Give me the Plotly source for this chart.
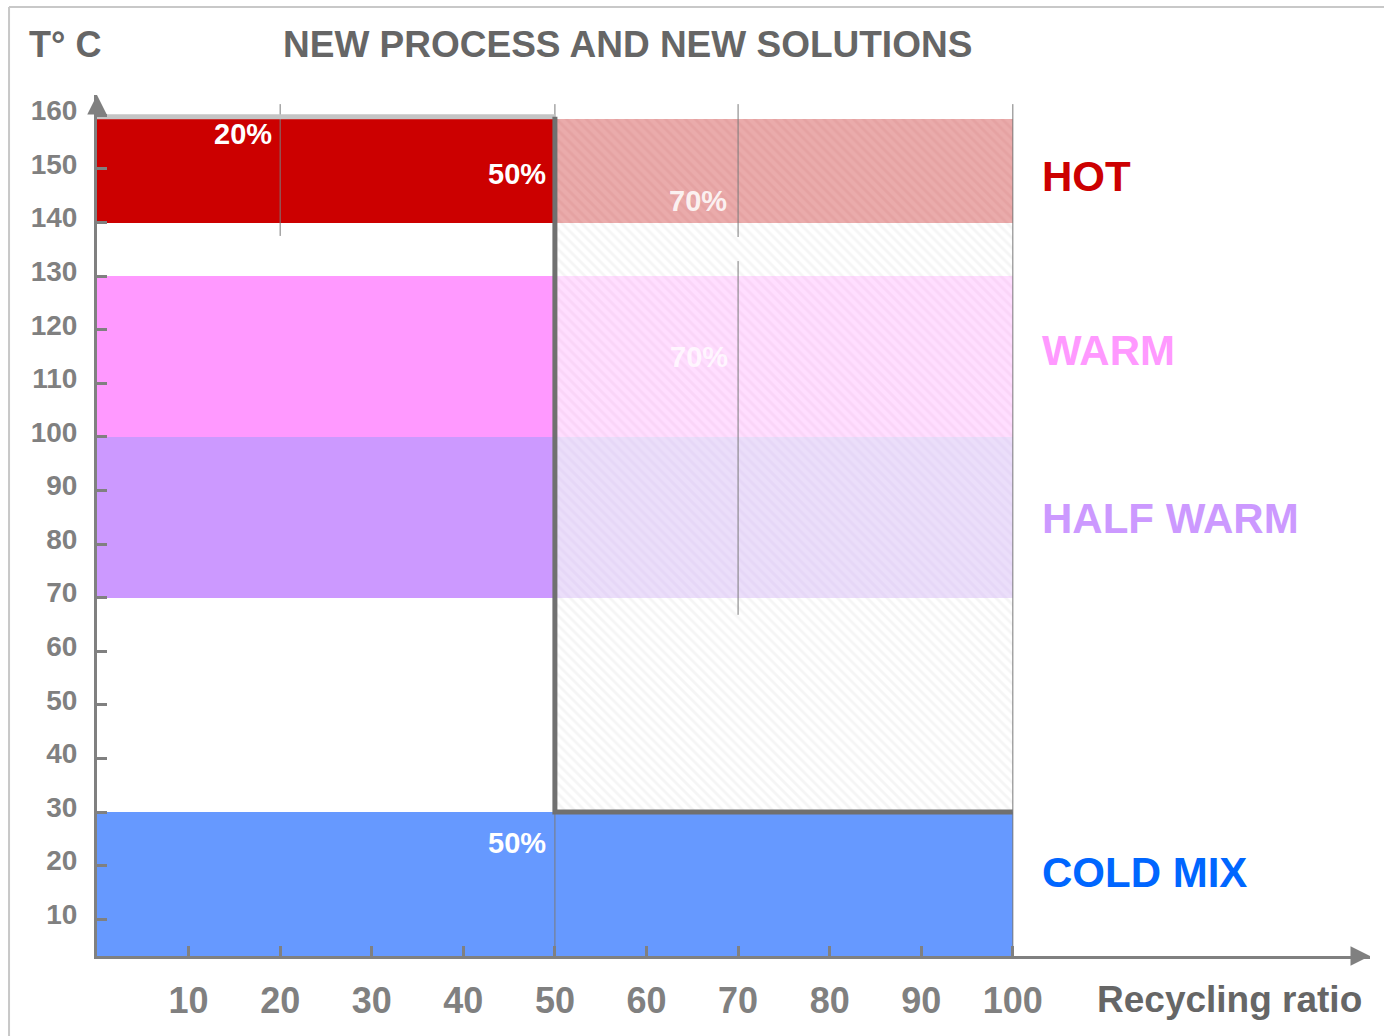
import plotly.graph_objects as go

# Temperature bands (°C) against recycling ratio (%)
y_floor = 3.13          # where the recycling-ratio axis crosses the temperature scale
y_top = 163.8
x_top = 139.0

# Solid bands, current practice (0-50 % recycling)
solid_names = ["HOT", "WARM", "HALF WARM", "COLD MIX"]
solid_low = [140, 100, 70, y_floor]
solid_high = [159.3, 130, 100, 30]
solid_x0 = [0, 0, 0, 0]
solid_x1 = [50, 50, 50, 100]
solid_colors = ["#CC0000", "#FF99FF", "#CC99FF", "#6699FF"]

# Hatched bands, new process (50-100 % recycling)
hatch_low = [140, 130, 100, 70, 30]
hatch_high = [159.3, 140, 130, 100, 70]
hatch_x0 = [50, 50, 50, 50, 50]
hatch_x1 = [100, 100, 100, 100, 100]
hatch_bg = ["#EAABAB", "#FFFFFF", "#FFDEFF", "#EBDEFA", "#FFFFFF"]
hatch_fg = ["#E5A2A2", "#F5F5F5", "#FAD5F8", "#E6D7F7", "#F5F5F5"]

# Band labels on the right
band_labels = ["HOT", "WARM", "HALF WARM", "COLD MIX"]
band_label_y = [148.5, 116.2, 84.7, 18.8]
band_label_colors = ["#CC0000", "#FF99FF", "#CC99FF", "#0066FF"]
band_label_x = 103.0

# Percentage labels inside the bands
pct_text = ["20%", "50%", "70%", "70%", "50%"]
pct_x = [19.3, 49.2, 69.0, 69.1, 49.2]
pct_y = [156.6, 149.0, 144.1, 114.9, 24.2]
pct_colors = ["#FFFFFF", "#FFFFFF", "rgba(255,255,255,0.85)",
              "rgba(255,255,255,0.75)", "#FFFFFF"]

# Thin vertical guide lines (x, y from, y to)
guide_x = [20, 50, 70, 70, 100]
guide_y0 = [162.1, y_floor, 137.3, 66.8, y_floor]
guide_y1 = [137.5, 162.1, 162.1, 132.8, 162.1]

# Limit of the new process: top edge, then step down at 50 % to 30 °C
limit_top_x = [0, 50]
limit_top_y = [159.75, 159.75]
limit_step_x = [50, 50, 100]
limit_step_y = [159.75, 30, 30]

x_ticks = [10, 20, 30, 40, 50, 60, 70, 80, 90, 100]
y_ticks = [10, 20, 30, 40, 50, 60, 70, 80, 90, 100, 110, 120, 130, 140, 150, 160]

FONT = "Liberation Sans, Arial, sans-serif"

fig = go.Figure()

for lo, hi, x0, x1, c in zip(solid_low, solid_high, solid_x0, solid_x1, solid_colors):
    fig.add_trace(go.Bar(
        x=[(x0 + x1) / 2], y=[hi - lo], base=[lo], width=[x1 - x0],
        marker=dict(color=c, line=dict(width=0)),
        showlegend=False, hoverinfo="skip"))

for lo, hi, x0, x1, bg, fg in zip(hatch_low, hatch_high, hatch_x0, hatch_x1, hatch_bg, hatch_fg):
    fig.add_trace(go.Bar(
        x=[(x0 + x1) / 2], y=[hi - lo], base=[lo], width=[x1 - x0],
        marker=dict(color=bg, line=dict(width=0),
                    pattern=dict(shape="\\", bgcolor=bg, fgcolor=fg,
                                 size=7, solidity=0.4, fillmode="replace")),
        showlegend=False, hoverinfo="skip"))

gx, gy = [], []
for x, a, b in zip(guide_x, guide_y0, guide_y1):
    gx += [x, x, None]
    gy += [a, b, None]
fig.add_trace(go.Scatter(x=gx, y=gy, mode="lines",
                         line=dict(color="#7A7A7A", width=1),
                         showlegend=False, hoverinfo="skip"))

fig.add_trace(go.Scatter(x=limit_top_x, y=limit_top_y, mode="lines",
                         line=dict(color="#C4C4C4", width=5),
                         showlegend=False, hoverinfo="skip"))
fig.add_trace(go.Scatter(x=limit_step_x, y=limit_step_y, mode="lines",
                         line=dict(color="#707070", width=5),
                         showlegend=False, hoverinfo="skip"))

annotations = []
for t, x, y, c in zip(pct_text, pct_x, pct_y, pct_colors):
    annotations.append(dict(x=x, y=y, xref="x", yref="y", text=t, showarrow=False,
                            xanchor="right", yanchor="middle",
                            font=dict(family=FONT, size=29, color=c, weight="bold")))
for t, y, c in zip(band_labels, band_label_y, band_label_colors):
    annotations.append(dict(x=band_label_x, y=y, xref="x", yref="y", text=t,
                            showarrow=False, xanchor="left", yanchor="middle",
                            font=dict(family=FONT, size=42, color=c, weight="bold")))

# Titles
annotations.append(dict(x=0.4165, y=1.0592, xref="paper", yref="paper",
                        text="NEW PROCESS AND NEW SOLUTIONS", showarrow=False,
                        xanchor="center", yanchor="middle",
                        font=dict(family=FONT, size=37, color="#666666", weight="bold")))
annotations.append(dict(x=-0.055, y=1.0592, xref="paper", yref="paper",
                        text="T° C", showarrow=False, xanchor="left", yanchor="middle",
                        font=dict(family=FONT, size=36, color="#666666", weight="bold")))
annotations.append(dict(x=0.8896, y=-0.0511, xref="paper", yref="paper",
                        text="Recycling ratio", showarrow=False,
                        xanchor="center", yanchor="middle",
                        font=dict(family=FONT, size=37, color="#666666", weight="bold")))

# Arrow heads on both axes
annotations.append(dict(x=0, y=y_top, xref="x", yref="y", ax=0, ay=18,
                        text="", showarrow=True, arrowhead=2, arrowsize=1.3,
                        arrowwidth=3, arrowcolor="#808080"))
annotations.append(dict(x=x_top, y=y_floor, xref="x", yref="y", ax=-18, ay=0,
                        text="", showarrow=True, arrowhead=2, arrowsize=1.3,
                        arrowwidth=3, arrowcolor="#808080"))

# Frame lines at the top and left of the page
shapes = [
    dict(type="line", xref="paper", yref="paper", x0=-0.0691, x1=1.02,
         y0=1.1022, y1=1.1022, line=dict(color="#C8C8C8", width=2)),
    dict(type="line", xref="paper", yref="paper", x0=-0.0691, x1=-0.0691,
         y0=-0.1, y1=1.1022, line=dict(color="#C8C8C8", width=2)),
]

fig.update_layout(
    width=1384, height=1036,
    margin=dict(l=97, r=14, t=95, b=80, autoexpand=False),
    paper_bgcolor="white", plot_bgcolor="white",
    barmode="overlay", bargap=0,
    annotations=annotations, shapes=shapes,
    xaxis=dict(range=[0, x_top], showgrid=False, zeroline=False, automargin=False,
               showline=True, linecolor="#808080", linewidth=3,
               tickvals=x_ticks, ticktext=[str(v) for v in x_ticks],
               ticks="inside", ticklen=10, tickwidth=3, tickcolor="#808080",
               ticklabelstandoff=11,
               tickfont=dict(family=FONT, size=36, color="#808080", weight="bold"),
               fixedrange=True),
    yaxis=dict(range=[y_floor, y_top], showgrid=False, zeroline=False, automargin=False,
               showline=True, linecolor="#808080", linewidth=3,
               tickvals=y_ticks, ticktext=[str(v) for v in y_ticks],
               ticks="inside", ticklen=10, tickwidth=3, tickcolor="#808080",
               ticklabelstandoff=11, ticklabelshift=-5,
               tickfont=dict(family=FONT, size=28, color="#808080", weight="bold"),
               fixedrange=True),
)

fig.write_html("out.html", config={"displayModeBar": False})
